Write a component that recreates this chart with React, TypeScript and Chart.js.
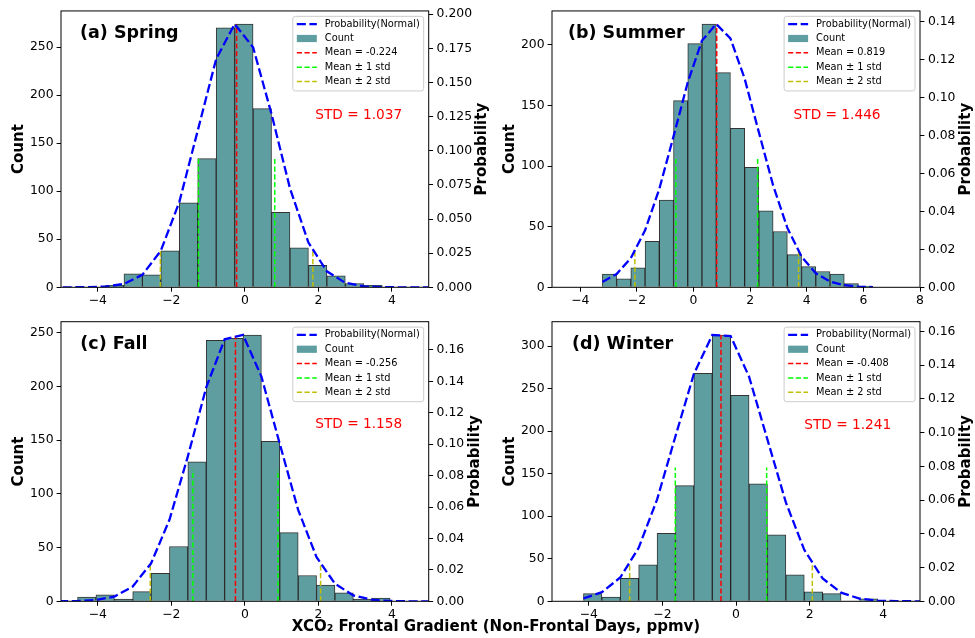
import React, { useEffect, useRef } from 'react';
import { Chart, registerables } from 'chart.js';

Chart.register(...registerables);

const FAMILY = "'DejaVu Sans', sans-serif";

// ================= DATA =================
// (a) Spring
const springCenters = [-3.539, -3.037, -2.536, -2.034, -1.532, -1.031, -0.529, -0.027, 0.475, 0.976, 1.478, 1.98, 2.481, 2.983, 3.485];
const springCounts = [2, 14, 13, 38, 88, 134, 270, 274, 186, 78, 41, 23, 12, 4, 2];
const springCurveX = [-5.295, -4.793, -4.292, -3.79, -3.288, -2.787, -2.285, -1.783, -1.282, -0.78, -0.278, 0.224, 0.725, 1.227, 1.729, 2.23, 2.732, 3.234, 3.736, 4.237, 4.739, 5.241];
const springCurveP = [0.0, 0.0, 0.0001, 0.0005, 0.0025, 0.0091, 0.0268, 0.0624, 0.1147, 0.1672, 0.1928, 0.1758, 0.127, 0.0725, 0.0328, 0.0117, 0.0033, 0.0007, 0.0001, 0.0, 0.0, 0.0];
const springRefX = [-0.224, -1.261, 0.813, -2.298, 1.85]; // mean, mean-1std, mean+1std, mean-2std, mean+2std
const springRefTop = [0.1925, 0.0942, 0.027]; // red, green, yellow line tops (probability axis)

// (b) Summer
const summerCenters = [-2.969, -2.466, -1.964, -1.461, -0.958, -0.456, 0.047, 0.549, 1.052, 1.555, 2.057, 2.56, 3.062, 3.565, 4.068, 4.57, 5.073, 5.576, 6.078];
const summerCounts = [11, 7, 16, 38, 72, 154, 201, 217, 177, 131, 99, 63, 46, 27, 17, 13, 11, 3, 1];
const summerCurveX = [-3.22, -2.717, -2.215, -1.712, -1.21, -0.707, -0.204, 0.298, 0.801, 1.303, 1.806, 2.309, 2.811, 3.314, 3.816, 4.319, 4.822, 5.324, 5.827, 6.329];
const summerCurveP = [0.0028, 0.007, 0.0154, 0.03, 0.0518, 0.0795, 0.108, 0.13, 0.1387, 0.1311, 0.1099, 0.0816, 0.0537, 0.0313, 0.0162, 0.0074, 0.003, 0.0011, 0.0004, 0.0001];
const summerRefX = [0.819, -0.627, 2.265, -2.073, 3.711];
const summerRefTop = [0.1385, 0.068, 0.0187];

// (c) Fall
const fallCenters = [-4.3, -3.8, -3.3, -2.8, -2.3, -1.8, -1.3, -0.8, -0.3, 0.2, 0.7, 1.2, 1.7, 2.2, 2.7, 3.2, 3.7];
const fallCounts = [4, 6, 2, 9, 26, 51, 130, 243, 245, 248, 149, 64, 24, 15, 8, 2, 3];
const fallCurveX = [-5.05, -4.55, -4.05, -3.55, -3.05, -2.55, -2.05, -1.55, -1.05, -0.55, -0.05, 0.45, 0.95, 1.45, 1.95, 2.45, 2.95, 3.45, 3.95, 4.45, 4.95, 5.45];
const fallCurveP = [0.0, 0.0002, 0.0008, 0.003, 0.0094, 0.0242, 0.0519, 0.0923, 0.1362, 0.1668, 0.1696, 0.1431, 0.1002, 0.0582, 0.0281, 0.0112, 0.0037, 0.001, 0.0002, 0.0, 0.0, 0.0];
const fallRefX = [-0.256, -1.414, 0.902, -2.572, 2.06];
const fallRefTop = [0.169, 0.0837, 0.0233];

// (d) Winter
const winterCenters = [-3.895, -3.395, -2.895, -2.395, -1.895, -1.395, -0.895, -0.395, 0.105, 0.605, 1.105, 1.605, 2.105, 2.605, 3.105, 3.605];
const winterCounts = [9, 5, 27, 43, 80, 136, 268, 313, 242, 138, 78, 31, 11, 9, 0, 3];
const winterCurveX = [-4.145, -3.645, -3.145, -2.645, -2.145, -1.645, -1.145, -0.645, -0.145, 0.355, 0.855, 1.355, 1.855, 2.355, 2.855, 3.355, 3.855, 4.355, 4.855, 5.355];
const winterCurveP = [0.0017, 0.0054, 0.0141, 0.0317, 0.0603, 0.0978, 0.1347, 0.1578, 0.1572, 0.1331, 0.0958, 0.0586, 0.0305, 0.0135, 0.0051, 0.0016, 0.0004, 0.0001, 0.0, 0.0];
const winterRefX = [-0.408, -1.649, 0.833, -2.89, 2.074];
const winterRefTop = [0.1578, 0.0793, 0.0224];

// Text
const panelTitles = ['(a) Spring', '(b) Summer', '(c) Fall', '(d) Winter'];
const stdTexts = ['STD = 1.037', 'STD = 1.446', 'STD = 1.158', 'STD = 1.241'];
const meanTexts = ['Mean = -0.224', 'Mean = 0.819', 'Mean = -0.256', 'Mean = -0.408'];
const legendFixed = ['Probability(Normal)', 'Count', 'Mean \u00b1 1 std', 'Mean \u00b1 2 std'];
const xAxisTitle = 'XCO\u2082 Frontal Gradient (Non-Frontal Days, ppmv)';

// Ticks and limits
const xTicksStd = [-4, -2, 0, 2, 4];
const xTicksSummer = [-4, -2, 0, 2, 4, 6, 8];
const countTicksSpring = [0, 50, 100, 150, 200, 250];
const countTicksSummer = [0, 50, 100, 150, 200];
const countTicksFall = [0, 50, 100, 150, 200, 250];
const countTicksWinter = [0, 50, 100, 150, 200, 250, 300];
const probTicksSpring = [0, 0.025, 0.05, 0.075, 0.1, 0.125, 0.15, 0.175, 0.2];
const probTicksSummer = [0, 0.02, 0.04, 0.06, 0.08, 0.1, 0.12, 0.14];
const probTicksFall = [0, 0.02, 0.04, 0.06, 0.08, 0.1, 0.12, 0.14, 0.16];
const probTicksWinter = [0, 0.02, 0.04, 0.06, 0.08, 0.1, 0.12, 0.14, 0.16];
const countMax = [287.7, 227.9, 260.4, 328.7];
const probMax = [0.2024, 0.1456, 0.178, 0.1657];

// ================= STYLE / LAYOUT =================
const BAR_COLOR = 'cadetblue';
const CURVE = { color: '#0000ff', width: 2.3, dash: [9, 3.6] };
const MEAN = { color: '#ff0000', width: 1.5, dash: [5.2, 2.5] };
const STD1 = { color: '#00ff00', width: 1.5, dash: [5.2, 2.5] };
const STD2 = { color: '#bfbf00', width: 1.5, dash: [5.2, 2.5] };

type Box = { left: number; top: number; w: number; h: number };
type Area = { left: number; right: number; top: number; bottom: number };

type PanelDef = {
  title: string; stdText: string; meanText: string;
  centers: number[]; counts: number[]; curveX: number[]; curveP: number[];
  refX: number[]; refTop: number[];
  xMin: number; xMax: number; xTicks: number[];
  yMax: number; yTicks: number[];
  pMax: number; pTicks: number[]; pDec: number;
  canvas: Box; area: Area;
  titleDx: number; stdDx: number; stdDy: number; probDx: number;
};

const panels: PanelDef[] = [
  {
    title: panelTitles[0], stdText: stdTexts[0], meanText: meanTexts[0],
    centers: springCenters, counts: springCounts, curveX: springCurveX, curveP: springCurveP,
    refX: springRefX, refTop: springRefTop,
    xMin: -5, xMax: 5, xTicks: xTicksStd, yMax: countMax[0], yTicks: countTicksSpring,
    pMax: probMax[0], pTicks: probTicksSpring, pDec: 3,
    canvas: { left: 0, top: 0, w: 490, h: 310 }, area: { left: 61, right: 428.7, top: 7.3, bottom: 287.3 },
    titleDx: 19, stdDx: 254.3, stdDy: 107.7, probDx: 57.7,
  },
  {
    title: panelTitles[1], stdText: stdTexts[1], meanText: meanTexts[1],
    centers: summerCenters, counts: summerCounts, curveX: summerCurveX, curveP: summerCurveP,
    refX: summerRefX, refTop: summerRefTop,
    xMin: -5, xMax: 8, xTicks: xTicksSummer, yMax: countMax[1], yTicks: countTicksSummer,
    pMax: probMax[1], pTicks: probTicksSummer, pDec: 2,
    canvas: { left: 490, top: 0, w: 485, h: 310 }, area: { left: 62, right: 430, top: 7.3, bottom: 287.3 },
    titleDx: 16, stdDx: 241.6, stdDy: 107.7, probDx: 49.5,
  },
  {
    title: panelTitles[2], stdText: stdTexts[2], meanText: meanTexts[2],
    centers: fallCenters, counts: fallCounts, curveX: fallCurveX, curveP: fallCurveP,
    refX: fallRefX, refTop: fallRefTop,
    xMin: -5, xMax: 5, xTicks: xTicksStd, yMax: countMax[2], yTicks: countTicksFall,
    pMax: probMax[2], pTicks: probTicksFall, pDec: 2,
    canvas: { left: 0, top: 310, w: 490, h: 328 }, area: { left: 61, right: 428.7, top: 11.7, bottom: 291.3 },
    titleDx: 19.3, stdDx: 254.3, stdDy: 106.6, probDx: 50.3,
  },
  {
    title: panelTitles[3], stdText: stdTexts[3], meanText: meanTexts[3],
    centers: winterCenters, counts: winterCounts, curveX: winterCurveX, curveP: winterCurveP,
    refX: winterRefX, refTop: winterRefTop,
    xMin: -5, xMax: 5, xTicks: xTicksStd, yMax: countMax[3], yTicks: countTicksWinter,
    pMax: probMax[3], pTicks: probTicksWinter, pDec: 2,
    canvas: { left: 490, top: 310, w: 485, h: 328 }, area: { left: 62, right: 430, top: 11.7, bottom: 291.3 },
    titleDx: 20, stdDx: 252.3, stdDy: 107.3, probDx: 49.5,
  },
];

const fmt = (v: number, d: number) => v.toFixed(d).replace('-', '\u2212');

function roundRectPath(ctx: CanvasRenderingContext2D, x: number, y: number, w: number, h: number, r: number) {
  ctx.beginPath();
  ctx.moveTo(x + r, y);
  ctx.lineTo(x + w - r, y);
  ctx.quadraticCurveTo(x + w, y, x + w, y + r);
  ctx.lineTo(x + w, y + h - r);
  ctx.quadraticCurveTo(x + w, y + h, x + w - r, y + h);
  ctx.lineTo(x + r, y + h);
  ctx.quadraticCurveTo(x, y + h, x, y + h - r);
  ctx.lineTo(x, y + r);
  ctx.quadraticCurveTo(x, y, x + r, y);
  ctx.closePath();
}

function drawLegend(ctx: CanvasRenderingContext2D, a: any, p: PanelDef) {
  const fs = 9.8;
  ctx.font = `${fs}px ${FAMILY}`;
  const labels = [legendFixed[0], legendFixed[1], p.meanText, legendFixed[2], legendFixed[3]];
  const tw = Math.max(...labels.map((l) => ctx.measureText(l).width));
  const pad = 4, hl = 20, hp = 8;
  const w = pad + hl + hp + tw + pad;
  const h = 74.6;
  const x0 = a.right - 5 - w;
  const y0 = a.top + 5.4;
  roundRectPath(ctx, x0, y0, w, h, 2.5);
  ctx.fillStyle = 'rgba(255,255,255,0.8)';
  ctx.fill();
  ctx.strokeStyle = '#cccccc';
  ctx.lineWidth = 1;
  ctx.stroke();
  const styles = [CURVE, null, MEAN, STD1, STD2];
  labels.forEach((lab, i) => {
    const cy = y0 + 7.8 + i * 14.35;
    const hx = x0 + pad;
    const st = styles[i];
    if (!st) {
      ctx.fillStyle = BAR_COLOR;
      ctx.fillRect(hx, cy - 3.6, hl, 7.2);
    } else {
      ctx.strokeStyle = st.color;
      ctx.lineWidth = st.width;
      ctx.setLineDash(st.dash);
      ctx.beginPath();
      ctx.moveTo(hx, cy);
      ctx.lineTo(hx + hl, cy);
      ctx.stroke();
      ctx.setLineDash([]);
    }
    ctx.fillStyle = '#000';
    ctx.textAlign = 'left';
    ctx.textBaseline = 'middle';
    ctx.fillText(lab, hx + hl + hp, cy);
  });
}

function decorPlugin(p: PanelDef) {
  return {
    id: 'decor',
    afterDraw(chart: any) {
      const ctx: CanvasRenderingContext2D = chart.ctx;
      const a = chart.chartArea;
      ctx.save();
      ctx.strokeStyle = '#000';
      ctx.lineWidth = 1;
      ctx.strokeRect(a.left, a.top, a.right - a.left, a.bottom - a.top);

      ctx.fillStyle = '#000';
      ctx.textAlign = 'left';
      ctx.textBaseline = 'alphabetic';
      ctx.font = `bold 17.5px ${FAMILY}`;
      ctx.fillText(p.title, a.left + p.titleDx, a.top + 27.2);

      ctx.fillStyle = '#ff0000';
      ctx.font = `13.7px ${FAMILY}`;
      ctx.fillText(p.stdText, a.left + p.stdDx, a.top + p.stdDy);

      const cy = (a.top + a.bottom) / 2;
      ctx.fillStyle = '#000';
      ctx.font = `bold 15px ${FAMILY}`;
      ctx.textAlign = 'center';
      ctx.save();
      ctx.translate(a.left - 37.7, cy);
      ctx.rotate(-Math.PI / 2);
      ctx.fillText('Count', 0, 0);
      ctx.restore();
      ctx.save();
      ctx.translate(a.right + p.probDx, cy);
      ctx.rotate(-Math.PI / 2);
      ctx.fillText('Probability', 0, 0);
      ctx.restore();

      drawLegend(ctx, a, p);
      ctx.restore();
    },
  };
}

function vline(xs: number[], top: number) {
  const out: any[] = [];
  xs.forEach((x, i) => {
    if (i > 0) out.push({ x, y: null });
    out.push({ x, y: 0 });
    out.push({ x, y: top });
  });
  return out;
}

function Panel({ p }: { p: PanelDef }) {
  const ref = useRef<HTMLCanvasElement>(null);
  useEffect(() => {
    if (!ref.current) return;
    const tickFont = { family: FAMILY, size: 12.4 };
    const yW = p.area.left;
    const y1W = p.canvas.w - p.area.right;
    const xH = p.canvas.h - p.area.bottom;
    const common = {
      border: { display: false },
      grid: { display: true, drawOnChartArea: false, drawTicks: true, tickLength: 4.4, color: '#000', lineWidth: 1, offset: false },
    };
    const chart = new Chart(ref.current, {
      type: 'bar',
      data: {
        datasets: [
          {
            type: 'line', label: legendFixed[0], yAxisID: 'y1', xAxisID: 'x',
            data: p.curveX.map((x, i) => ({ x, y: p.curveP[i] })),
            borderColor: CURVE.color, borderWidth: CURVE.width, borderDash: CURVE.dash,
            pointRadius: 0, fill: false, tension: 0, order: 1,
          },
          {
            type: 'line', label: p.meanText, yAxisID: 'y1', xAxisID: 'x',
            data: vline([p.refX[0]], p.refTop[0]),
            borderColor: MEAN.color, borderWidth: MEAN.width, borderDash: MEAN.dash,
            pointRadius: 0, fill: false, tension: 0, spanGaps: false, order: 2,
          },
          {
            type: 'line', label: legendFixed[2], yAxisID: 'y1', xAxisID: 'x',
            data: vline([p.refX[1], p.refX[2]], p.refTop[1]),
            borderColor: STD1.color, borderWidth: STD1.width, borderDash: STD1.dash,
            pointRadius: 0, fill: false, tension: 0, spanGaps: false, order: 3,
          },
          {
            type: 'line', label: legendFixed[3], yAxisID: 'y1', xAxisID: 'x',
            data: vline([p.refX[3], p.refX[4]], p.refTop[2]),
            borderColor: STD2.color, borderWidth: STD2.width, borderDash: STD2.dash,
            pointRadius: 0, fill: false, tension: 0, spanGaps: false, order: 4,
          },
          {
            type: 'bar', label: legendFixed[1], yAxisID: 'y', xAxisID: 'x',
            data: p.centers.map((x, i) => ({ x, y: p.counts[i] })),
            backgroundColor: BAR_COLOR, borderColor: 'rgba(0,0,0,0.8)', borderWidth: 1,
            barPercentage: 1, categoryPercentage: 1, order: 5,
          },
        ],
      } as any,
      options: {
        responsive: false,
        maintainAspectRatio: false,
        animation: false,
        devicePixelRatio: 1,
        events: [],
        layout: { padding: { top: p.area.top, left: 0, right: 0, bottom: 0 } },
        plugins: { legend: { display: false }, tooltip: { enabled: false } },
        scales: {
          x: {
            type: 'linear', position: 'bottom', min: p.xMin, max: p.xMax, offset: false,
            ...common,
            afterBuildTicks: (s: any) => { s.ticks = p.xTicks.map((v) => ({ value: v })); },
            afterFit: (s: any) => { s.height = xH; },
            ticks: { color: '#000', font: tickFont, padding: 1.5, maxRotation: 0, autoSkip: false, callback: (v: any) => fmt(Number(v), 0) },
          },
          y: {
            type: 'linear', position: 'left', min: 0, max: p.yMax,
            ...common,
            afterBuildTicks: (s: any) => { s.ticks = p.yTicks.map((v) => ({ value: v })); },
            afterFit: (s: any) => { s.width = yW; },
            ticks: { color: '#000', font: tickFont, padding: 3, autoSkip: false, callback: (v: any) => fmt(Number(v), 0) },
          },
          y1: {
            type: 'linear', position: 'right', min: 0, max: p.pMax,
            ...common,
            afterBuildTicks: (s: any) => { s.ticks = p.pTicks.map((v) => ({ value: v })); },
            afterFit: (s: any) => { s.width = y1W; },
            ticks: { color: '#000', font: tickFont, padding: 3.5, autoSkip: false, callback: (v: any) => fmt(Number(v), p.pDec) },
          },
        },
      } as any,
      plugins: [decorPlugin(p)],
    });
    return () => chart.destroy();
  }, [p]);
  return (
    <canvas
      ref={ref}
      width={p.canvas.w}
      height={p.canvas.h}
      style={{ position: 'absolute', left: p.canvas.left, top: p.canvas.top, width: p.canvas.w, height: p.canvas.h }}
    />
  );
}

export default function App() {
  return (
    <div style={{ position: 'absolute', left: 0, top: 0, width: 975, height: 638, background: '#fff', overflow: 'hidden' }}>
      {panels.map((p, i) => (
        <Panel key={i} p={p} />
      ))}
      <div
        style={{
          position: 'absolute', left: 196, top: 618.8, width: 600, textAlign: 'center',
          fontFamily: FAMILY, fontWeight: 'bold', fontSize: 15, lineHeight: '15px', whiteSpace: 'nowrap', color: '#000',
        }}
      >
        {xAxisTitle}
      </div>
    </div>
  );
}
